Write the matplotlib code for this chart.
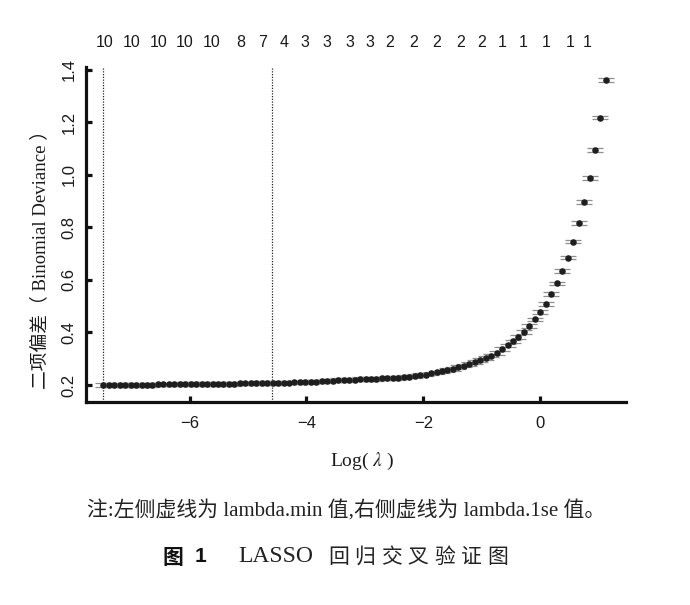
"""LASSO 回归交叉验证图 (cv.glmnet 风格重绘)"""

import matplotlib
matplotlib.use("Agg")
import matplotlib.pyplot as plt
import numpy as np

# 交叉验证平均偏差, 从左(小λ)到右(大λ)
cv_mean = [
    0.200, 0.200, 0.200, 0.200, 0.200, 0.201, 0.201, 0.201, 0.201, 0.201,
    0.202, 0.202, 0.202, 0.202, 0.203, 0.203, 0.203, 0.203, 0.204, 0.204,
    0.204, 0.205, 0.205, 0.205, 0.205, 0.206, 0.206, 0.206, 0.207, 0.207,
    0.207, 0.208, 0.208, 0.209, 0.209, 0.210, 0.210, 0.211, 0.212, 0.213,
    0.214, 0.215, 0.217, 0.218, 0.219, 0.220, 0.221, 0.222, 0.222, 0.223,
    0.224, 0.225, 0.226, 0.227, 0.228, 0.230, 0.232, 0.234, 0.237, 0.240,
    0.244, 0.248, 0.252, 0.257, 0.262, 0.268, 0.274, 0.281, 0.288, 0.295,
    0.303, 0.312, 0.323, 0.336, 0.351, 0.366, 0.383, 0.403, 0.425, 0.450,
    0.477, 0.509, 0.546, 0.587, 0.633, 0.685, 0.746, 0.816, 0.896, 0.987,
    1.094, 1.218, 1.362,
]
cv_se = 0.007

# λ 网格 (glmnet 的 λ 在对数尺度上等距)
log_lambda_first = -7.475
log_lambda_last = 1.12
log_lambda = np.linspace(log_lambda_first, log_lambda_last, len(cv_mean))

lambda_min = -7.475   # log(lambda.min)
lambda_1se = -4.594   # log(lambda.1se)

# 顶部: 非零系数个数
top_pos = [-7.446, -6.989, -6.534, -6.077, -5.620, -5.124, -4.754, -4.383,
           -4.024, -3.653, -3.266, -2.912, -2.570, -2.171, -1.771, -1.372,
           -1.001, -0.659, -0.289, 0.099, 0.510, 0.796]
top_nz = [10, 10, 10, 10, 10, 8, 7, 4, 3, 3, 3, 3, 2, 2, 2, 2, 2,
          1, 1, 1, 1, 1]

x_ticks = [-6, -4, -2, 0]
y_ticks = [0.2, 0.4, 0.6, 0.8, 1.0, 1.2, 1.4]

SANS = ["Liberation Sans", "DejaVu Sans"]
SERIF_CN = ["Liberation Serif", "Noto Sans CJK SC", "DejaVu Sans"]
W, H = 690, 605

plt.rcParams["mathtext.fontset"] = "stix"

fig = plt.figure(figsize=(W / 100, H / 100), dpi=100)
ax = fig.add_axes([0.1246, 0.336, 0.783, 0.554])

ax.errorbar(log_lambda, cv_mean, yerr=cv_se, fmt="o", color="#1e1e1e",
            markersize=3.7, ecolor="#8f8f8f", elinewidth=0.8,
            capsize=5.5, capthick=0.9, zorder=3)

for v in (lambda_min, lambda_1se):
    ax.axvline(v, color="#222222", linestyle=(0, (1, 1.2)), linewidth=0.9,
               zorder=2)

ax.set_xlim(-7.771, 1.468)
ax.set_ylim(0.1364, 1.4126)

for side in ("top", "right"):
    ax.spines[side].set_visible(False)
for side in ("left", "bottom"):
    ax.spines[side].set_linewidth(2.3)
    ax.spines[side].set_color("#111111")

ax.set_xticks(x_ticks)
ax.set_xticklabels([f"\u2212{abs(t)}" if t < 0 else str(t) for t in x_ticks])
ax.set_yticks(y_ticks)
ax.set_yticklabels([f"{t:.1f}" for t in y_ticks], rotation=90, va="center")
ax.tick_params(direction="in", length=4.5, width=2.3, color="#111111",
               labelsize=12, labelcolor="#1a1a1a")
ax.tick_params(axis="x", pad=10)
ax.tick_params(axis="y", pad=7)
for lab in ax.get_xticklabels() + ax.get_yticklabels():
    lab.set_family(SANS)

trans = ax.get_xaxis_transform()
for p, n in zip(top_pos, top_nz):
    ax.text(p, 1.071, str(n), transform=trans, ha="center", va="center",
            fontsize=11.5, family=SANS, color="#1a1a1a")

ax.set_xlabel("Log( $\\lambda$ )", fontsize=14, family=SERIF_CN,
              color="#1a1a1a")
ax.xaxis.set_label_coords((362 - 86) / 540, -(451 - 401.7) / 335)
ax.set_ylabel("二项偏差（ Binomial Deviance ）", fontsize=13.5,
              family=SERIF_CN, color="#1a1a1a")
ax.yaxis.set_label_coords(-(86 - 49) / 540, (401.7 - 255) / 335)


def spaced_text(x0, y, chars, step, **kw):
    """逐字放置文字, 模拟排版中的字间距"""
    for k, ch in enumerate(chars):
        fig.text((x0 + k * step) / W, 1 - y / H, ch, ha="left",
                 va="center", **kw)


fig.text(346.5 / W, 1 - 511 / H,
         "注:左侧虚线为 lambda.min 值,右侧虚线为 lambda.1se 值。",
         ha="center", va="center", fontsize=15, family=SERIF_CN,
         color="#222222")
fig.text(163 / W, 1 - 557 / H, "图", ha="left", va="center",
         fontsize=15, family=["Noto Sans CJK SC"], weight="bold",
         color="#111111")
fig.text(195 / W, 1 - 557 / H, "1", ha="left", va="center",
         fontsize=15, family=SANS, weight="bold", color="#111111")
fig.text(238 / W, 1 - 557 / H, "LASSO", ha="left", va="center",
         fontsize=17, family=SERIF_CN, color="#222222")
spaced_text(328, 557, "回归交叉验证图", 26.5, fontsize=15,
            family=["Noto Sans CJK SC"], color="#222222")

fig.savefig("out.png", dpi=100)
